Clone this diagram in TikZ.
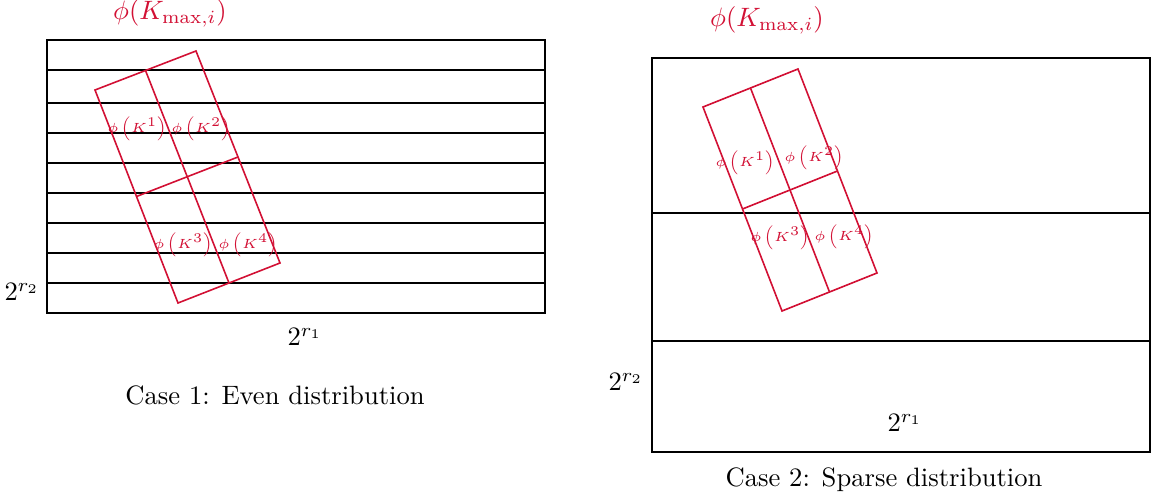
\documentclass[tikz,border=0pt]{standalone}
\usepackage{xcolor}
\usepackage{tikz}
\usepackage{amsmath}
\usetikzlibrary{calc}

\definecolor{phired}{RGB}{210,16,52}
\tikzset{
	gridline/.style={thick},
	keybox/.style={draw=phired,semithick},
	keylabel/.style={text=phired,font=\tiny,inner sep=0pt},
	phimax/.style={text=phired,inner sep=0pt},
}

\begin{document}
\begin{tikzpicture}[x=0.013213cm,y=-0.013213cm]
			\useasboundingbox (0,0) rectangle (1152,499);
			% case 1: even distribution
			\draw[gridline] (47,40) rectangle (545,313);
			\foreach \y in {70,103,133,163,193,223,253,283}{
				\draw[gridline] (47,\y) -- (545,\y);
			}
			\coordinate (a1) at (95,90);
			\coordinate (b1) at (196,51);
			\coordinate (c1) at (280,263);
			\coordinate (d1) at (178,303);
			\draw[keybox] (a1) -- (b1) -- (c1) -- (d1) -- cycle;
			\draw[keybox] ($(a1)!0.5!(b1)$) -- ($(d1)!0.5!(c1)$);
			\draw[keybox] ($(a1)!0.5!(d1)$) -- ($(b1)!0.5!(c1)$);
			\node[keylabel] (k1a) at (137,129) {$\phi\left(K^1\right)$};
			\node[keylabel] (k2a) at (201,129) {$\phi\left(K^2\right)$};
			\node[keylabel] (k3a) at (183,245) {$\phi\left(K^3\right)$};
			\node[keylabel] (k4a) at (248,245) {$\phi\left(K^4\right)$};
			\node[phimax] (maxa) at (170,13) {$\phi(K_{\max,i})$};
			\node (r2a) at (22,292) {$2^{r_2}$};
			\node (r1a) at (305,337) {$2^{r_1}$};
			\node (casea) at (275,395) {Case 1: Even distribution};
			% case 2: sparse distribution
			\draw[gridline] (652,58) rectangle (1150,452);
			\foreach \y in {213,341}{
				\draw[gridline] (652,\y) -- (1150,\y);
			}
			\coordinate (a2) at (703,107);
			\coordinate (b2) at (798,69);
			\coordinate (c2) at (877,273);
			\coordinate (d2) at (782,311);
			\draw[keybox] (a2) -- (b2) -- (c2) -- (d2) -- cycle;
			\draw[keybox] ($(a2)!0.5!(b2)$) -- ($(d2)!0.5!(c2)$);
			\draw[keybox] ($(a2)!0.5!(d2)$) -- ($(b2)!0.5!(c2)$);
			\node[keylabel] (k1b) at (745,163) {$\phi\left(K^1\right)$};
			\node[keylabel] (k2b) at (814,158) {$\phi\left(K^2\right)$};
			\node[keylabel] (k3b) at (780,238) {$\phi\left(K^3\right)$};
			\node[keylabel] (k4b) at (844,237) {$\phi\left(K^4\right)$};
			\node[phimax] (maxb) at (767,20) {$\phi(K_{\max,i})$};
			\node (r2b) at (626,382) {$2^{r_2}$};
			\node (r1b) at (905,423) {$2^{r_1}$};
			\node (caseb) at (884,480) {Case 2: Sparse distribution};
		\end{tikzpicture}
\end{document}
